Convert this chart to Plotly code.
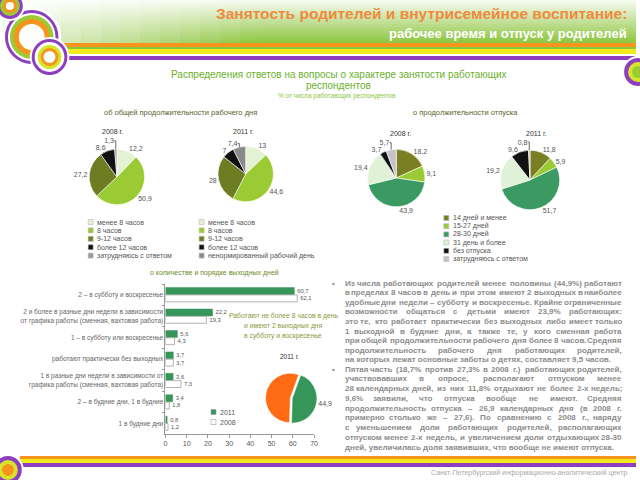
import plotly.graph_objects as go

W, H = 640, 480


def X(p):
    return p / W


def Y(p):
    return 1 - p / H


def fmt(v):
    return f"{v:g}".replace(".", ",")


# --- data ---
work_labels_08 = ["менее 8 часов", "8 часов", "9-12 часов", "более 12 часов", "затрудняюсь с ответом"]
work_labels_11 = ["менее 8 часов", "8 часов", "9-12 часов", "более 12 часов", "ненормированный рабочий день"]
work_08 = [12.2, 50.9, 27.2, 8.6, 1.3]
work_11 = [13, 44.6, 28, 7, 7.4]

vac_labels = ["14 дней и менее", "15-27 дней", "28-30 дней", "31 день и более", "без отпуска", "затрудняюсь с ответом"]
vac_08 = [18.2, 9.1, 43.9, 19.4, 3.7, 5.7]
vac_11 = [11.8, 5.9, 51.7, 19.2, 9.6, 0.8]

days_labels = [
    "2 – в субботу и воскресенье",
    "2 и более в разные дни недели в зависимости<br>от графика работы (сменная, вахтовая работа)",
    "1 – в субботу или воскресенье",
    "работают практически без выходных",
    "1 в разные дни недели в зависимости от<br>графика работы (сменная, вахтовая работа)",
    "2 – в будние дни, 1 в будние",
    "1 в будние дни",
]
days_11 = [60.7, 22.2, 5.6, 3.7, 3.6, 3.4, 0.8]
days_08 = [62.1, 19.3, 4.3, 3.7, 7.3, 1.8, 1.2]

share_labels = ["не более 8 часов и 2 выходных (сб, вс)", "остальные"]
share_11 = [44.9, 55.1]

work_colors = ["#e3f2d2", "#9acb34", "#6e7d22", "#111111", "#9a9a9a"]
vac_colors = ["#7b7f23", "#9acb34", "#3a9a62", "#dff1d6", "#111111", "#c4c4c4"]
GREEN = "#36965a"
FONT = "Liberation Sans, Arial, sans-serif"
GRAY = "#8c8c8c"

fig = go.Figure()


def pie(vals, labels, colors, cx, cy, r, text=None, pull=0, rotation=0):
    return go.Pie(
        values=vals, labels=labels, sort=False, direction="clockwise", rotation=rotation,
        pull=pull,
        marker=dict(colors=colors, line=dict(color="white", width=0.6)),
        text=text if text is not None else [fmt(v) for v in vals],
        textinfo="text", textposition="outside",
        textfont=dict(size=7, color="#555", family=FONT),
        domain=dict(x=[X(cx - r), X(cx + r)], y=[Y(cy + r), Y(cy - r)]),
        showlegend=False, hoverinfo="label+value",
    )


fig.add_trace(pie(work_08, work_labels_08, work_colors, 116, 177, 28))
fig.add_trace(pie(work_11, work_labels_11, work_colors[:4] + ["#8a8a8a"], 246, 174, 28))
fig.add_trace(pie(vac_08, vac_labels, vac_colors, 398, 178, 29))
fig.add_trace(pie(vac_11, vac_labels, vac_colors, 533, 180, 30))
fig.add_trace(pie(share_11, share_labels, [GREEN, "#ff6a13"], 291, 398, 27,
                  text=[fmt(share_11[0]), ""], pull=[0.08, 0], rotation=20))

fig.add_trace(go.Bar(
    y=days_labels, x=days_11, orientation="h", name="2011",
    marker=dict(color=GREEN, line=dict(color=GREEN, width=0.5)),
    text=[fmt(v) for v in days_11], textposition="outside",
    textfont=dict(size=7.5, color="#555", family=FONT), cliponaxis=False,
))
fig.add_trace(go.Bar(
    y=days_labels, x=days_08, orientation="h", name="2008",
    marker=dict(color="white", line=dict(color="#a0a0a0", width=0.8)),
    text=[fmt(v) for v in days_08], textposition="outside",
    textfont=dict(size=7.5, color="#555", family=FONT), cliponaxis=False,
))

shapes = []
ann = []

# header gradient
n = 22
for i in range(n):
    t = i / (n - 1)
    r = int(246 + (141 - 246) * t)
    g = int(251 + (198 - 251) * t)
    b = int(240 + (63 - 240) * t)
    shapes.append(dict(type="rect", xref="paper", yref="paper", layer="below",
                       x0=0, x1=1, y0=Y(i * 2 + 2), y1=Y(i * 2), line_width=0,
                       fillcolor=f"rgb({r},{g},{b})"))
for i in range(14):
    shapes.append(dict(type="rect", xref="paper", yref="paper", layer="below",
                       x0=X(i * 20), x1=X(i * 20 + 20), y0=Y(44), y1=1, line_width=0,
                       fillcolor="white", opacity=max(0, 0.8 - i * 0.065)))

# stripes
for y0, y1, c, x0 in [(43, 47, "#f7941d", 55), (47, 49, "#8cc63f", 55), (49, 54, "#f2ec1c", 55),
                      (56, 60, "#8e3fbf", 55), (456, 459, "#f7941d", 18), (459, 463, "#f2ec1c", 18),
                      (463, 467, "#8e3fbf", 18)]:
    shapes.append(dict(type="rect", xref="paper", yref="paper", layer="below",
                       x0=X(x0), x1=1, y0=Y(y1), y1=Y(y0), line_width=0, fillcolor=c))


def rings(cx, cy, radii, colors):
    for rr, c in zip(radii, colors):
        shapes.append(dict(type="circle", xref="paper", yref="paper", layer="below",
                           x0=X(cx - rr), x1=X(cx + rr), y0=Y(cy + rr), y1=Y(cy - rr),
                           line_width=0, fillcolor=c))


rings(30, 37, [30, 27, 24, 22, 18, 13], ["white", "#8e3fbf", "white", "#9acb34", "#f7941d", "white"])
rings(8, 6, [15, 13, 10, 7, 4], ["white", "#8e3fbf", "#9acb34", "#f7941d", "white"])
rings(48, 57, [20, 18, 15, 12, 9, 6], ["white", "#8e3fbf", "white", "#d7e52a", "#f7941d", "white"])
rings(642, 72, [16, 14, 10, 6], ["white", "#8e3fbf", "#d7e52a", "#9acb34"])
rings(6, 470, [16, 14, 10, 6], ["white", "#8e3fbf", "#d7e52a", "#f7941d"])


def text(x, y, s, size, color, anchor="center", bold=False):
    if bold:
        s = "<b>" + s + "</b>"
    ann.append(dict(x=X(x), y=Y(y), xref="paper", yref="paper", text=s, showarrow=False,
                    xanchor=anchor, yanchor="middle", borderpad=0,
                    font=dict(size=size, color=color, family=FONT)))


text(632, 13, "Занятость родителей и внутрисемейное воспитание:", 15.5, "#f08a3c", "right", True)
text(632, 34, "рабочее время и отпуск у родителей", 13, "white", "right", True)
text(340, 74, "Распределения ответов на вопросы о характере занятости работающих", 10, "#6cb02c")
text(340, 85, "респондентов", 10, "#6cb02c")
text(338, 96, "% от числа работающих респондентов", 6.5, "#8cc63f")
text(180, 113, "об общей продолжительности рабочего дня", 7.5, "#55632a")
text(468, 113, "о продолжительности отпуска", 7.5, "#55632a")
for x, y, s in [(112, 131, "2008 г."), (244, 131, "2011 г."), (402, 133, "2008 г."), (540, 133, "2011 г.")]:
    text(x, y, s, 7, "#333")
text(215, 273, "о количестве и порядке выходных дней", 7, "#6f8a2a")
for i, s in enumerate(["Работают не более 8 часов в день", "и имеют 2 выходных дня", "в субботу и воскресенье"]):
    text(284, 316 + i * 10, s, 6.8, "#8a9a3a")
text(290, 356, "2011 г.", 6.5, "#333")


def legend(x, y0, labels, colors, step, outline=None):
    for i, (lab, c) in enumerate(zip(labels, colors)):
        y = y0 + i * step
        shapes.append(dict(type="rect", xref="paper", yref="paper",
                           x0=X(x), x1=X(x + 5), y0=Y(y + 2.5), y1=Y(y - 2.5),
                           fillcolor=c, line=dict(color=outline or c, width=0.6)))
        text(x + 8, y, lab, 7, "#555", "left")


legend(87, 222, work_labels_08, work_colors, 8.4, "#bbb")
legend(199, 222, work_labels_11, work_colors[:4] + ["#8a8a8a"], 8.4, "#bbb")
legend(446, 218, vac_labels, vac_colors, 8.2, "#bbb")
legend(211, 412, ["2011", "2008"], [GREEN, "white"], 10, "#999")

para1 = [
    "Из числа работающих родителей менее половины (44,9%) работают",
    "в пределах 8 часов в день и при этом имеют 2 выходных в наиболее",
    "удобные дни недели – субботу и воскресенье. Крайне ограниченные",
    "возможности общаться с детьми имеют 23,9% работающих:",
    "это те, кто работает практически без выходных либо имеет только",
    "1 выходной в будние дни, а также те, у кого сменная работа",
    "при общей продолжительности рабочего дня более 8 часов. Средняя",
    "продолжительность рабочего дня работающих родителей,",
    "на которых лежат основные заботы о детях, составляет 9,5 часов.",
]
para2 = [
    "Пятая часть (18,7% против 27,3% в 2008 г.) работающих родителей,",
    "участвовавших в опросе, располагают отпуском менее",
    "28 календарных дней, из них 11,8% отдыхают не более 2-х недель;",
    "9,6% заявили, что отпуска вообще не имеют. Средняя",
    "продолжительность отпуска – 26,9 календарных дня (в 2008 г.",
    "примерно столько же – 27,6). По сравнению с 2008 г., наряду",
    "с уменьшением доли работающих родителей, располагающих",
    "отпуском менее 2-х недель, и увеличением доли отдыхающих 28-30",
    "дней, увеличилась доля заявивших, что вообще не имеют отпуска.",
]

# approximate bold glyph widths (em/1000) for justifying the body text
GW = dict(а=556, б=611, в=578, г=417, д=615, е=556, ж=845, з=500, и=618, й=618, к=500,
          л=603, м=736, н=618, о=611, п=618, р=611, с=556, т=486, у=556, ф=889, х=556,
          ц=625, ч=583, ш=889, щ=903, ъ=655, ы=830, ь=572, э=556, ю=851, я=567)
GW.update({",": 278, ".": 278, ":": 333, ";": 333, "(": 333, ")": 333, "%": 889,
           "–": 556, "-": 333, "И": 722, "П": 722, "К": 722, "С": 722, "Н": 722, "Т": 611})
TX0, TX1, TSIZE = 345, 627, 8


def wwidth(w):
    return sum(GW.get(ch, 556) for ch in w) * TSIZE / 1000


def justify(line, y):
    words = line.split(" ")
    est = [wwidth(w) for w in words]
    gap = (TX1 - TX0 - sum(est)) / (len(words) - 1)
    pos = TX0
    for i, (w, e) in enumerate(zip(words, est)):
        if i == 0:
            text(TX0, y, w, TSIZE, GRAY, "left", True)
        elif i == len(words) - 1:
            text(TX1, y, w, TSIZE, GRAY, "right", True)
        else:
            text(pos + e / 2, y, w, TSIZE, GRAY, "center", True)
        pos += e + gap


for y0, step, para in [(283, 9.6, para1), (369, 9.75, para2)]:
    text(335, y0, "•", 8, GRAY, "center", True)
    for i, line in enumerate(para):
        y = y0 + i * step
        if i < len(para) - 1:
            justify(line, y)
        else:
            text(TX0, y, line, TSIZE, GRAY, "left", True)

text(632, 473, "Санкт-Петербургский информационно-аналитический центр", 7, "#aaaaaa", "right")

fig.update_layout(
    width=W, height=H, margin=dict(l=0, r=0, t=0, b=0),
    paper_bgcolor="white", plot_bgcolor="white",
    showlegend=False, barmode="group", bargap=0.32, bargroupgap=0.05,
    shapes=shapes, annotations=ann,
    font=dict(family=FONT),
    xaxis=dict(domain=[X(165), X(315)], range=[0, 70], dtick=10, showgrid=False, zeroline=False,
               showline=True, linecolor="#999", linewidth=0.8, ticks="outside", ticklen=3,
               tickcolor="#999", tickfont=dict(size=7, color="#555"), anchor="y"),
    yaxis=dict(domain=[Y(434), Y(284)], autorange="reversed", showgrid=False, showline=True,
               linecolor="#999", linewidth=0.8, ticks="outside", ticklen=3, tickcolor="#999",
               tickson="boundaries", tickfont=dict(size=6.5, color="#666"), anchor="x"),
)

fig.write_html("out.html", config={"displayModeBar": False},
               post_script="document.body.style.margin='0';")
